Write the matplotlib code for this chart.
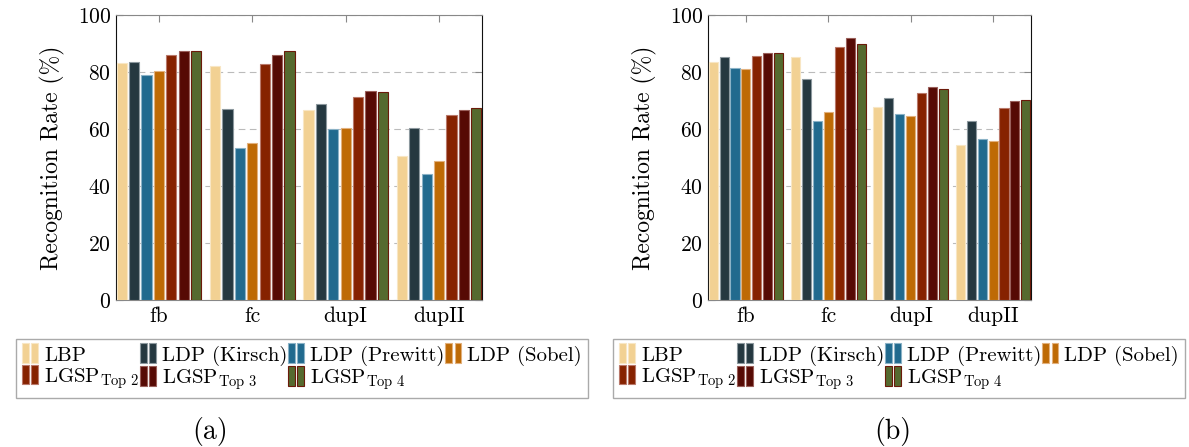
import numpy as np
import matplotlib
matplotlib.use("Agg")
import matplotlib.pyplot as plt
from matplotlib.patches import Patch, Rectangle
from matplotlib.legend_handler import HandlerBase

plt.rcParams['font.family'] = ['cmr10', 'DejaVu Serif']
plt.rcParams['mathtext.fontset'] = 'cm'
plt.rcParams['axes.formatter.use_mathtext'] = True

# probe sets on the x axis
sets = ['fb', 'fc', 'dupI', 'dupII']

methods = ['LBP', 'LDP (Kirsch)', 'LDP (Prewitt)', 'LDP (Sobel)',
           r'LGSP$_{\mathrm{Top\ 2}}$', r'LGSP$_{\mathrm{Top\ 3}}$', r'LGSP$_{\mathrm{Top\ 4}}$']

# recognition rates (%), one row per method, columns follow `sets`
rates_a = [
    [83.3, 82.2, 66.5, 50.6],   # LBP
    [83.4, 67.0, 68.9, 60.2],   # LDP Kirsch
    [78.8, 53.3, 59.9, 44.2],   # LDP Prewitt
    [80.5, 55.2, 60.2, 48.8],   # LDP Sobel
    [85.8, 82.8, 71.3, 64.8],   # LGSP top 2
    [87.4, 85.9, 73.3, 66.7],   # LGSP top 3
    [87.4, 87.4, 72.9, 67.4],   # LGSP top 4
]
rates_b = [
    [83.4, 85.3, 67.6, 54.3],
    [85.3, 77.7, 71.0, 62.9],
    [81.3, 62.9, 65.3, 56.6],
    [80.9, 65.8, 64.4, 55.7],
    [85.7, 88.9, 72.7, 67.3],
    [86.7, 91.9, 74.9, 69.9],
    [86.7, 89.9, 74.2, 70.3],
]

fills = ['#f2d193', '#253840', '#216a8e', '#be6a05', '#862200', '#560a04', '#556a2f']
edges = ['#f8e6c4', '#8c989e', '#8ab2c6', '#e2b07c', '#b9786a', '#9a5f5a', '#6b1a0a']


class TwoBars(HandlerBase):
    # pgfplots-style ybar legend image: two little bars
    def create_artists(self, legend, orig_handle, xdescent, ydescent,
                       width, height, fontsize, trans):
        x0, y0 = -xdescent, -ydescent - height * 0.1
        out = []
        for off in (0.0, 0.55):
            r = Rectangle((x0 + off * width, y0), width * 0.4, height * 1.25,
                          facecolor=orig_handle.get_facecolor(),
                          edgecolor=orig_handle.get_edgecolor(), linewidth=0.8,
                          transform=trans)
            out.append(r)
        return out


def draw_panel(ax, rates):
    pos = np.arange(len(sets))
    pitch = 0.1325
    for i, vals in enumerate(rates):
        ax.bar(pos + (i - 3) * pitch, vals, 0.11, color=fills[i],
               edgecolor=edges[i], linewidth=0.8, zorder=3)
    ax.set_xlim(-0.46, 3.46)
    ax.set_ylim(0, 100)
    ax.set_xticks(pos)
    ax.set_xticklabels(sets)
    ax.set_yticks(np.arange(0, 101, 20))
    ax.tick_params(axis='both', direction='in', length=5, color='#888888',
                   labelsize=15.5, top=True, right=True, bottom=False)
    ax.tick_params(axis='x', pad=5)
    ax.yaxis.grid(True, linestyle=(0, (6, 4)), color='#bbbbbb', linewidth=0.8, zorder=0)
    ax.set_axisbelow(True)
    ax.set_ylabel('Recognition Rate (%)', fontsize=17, labelpad=9)
    ax.spines['top'].set_color('#888888')
    ax.spines['bottom'].set_color('#888888')
    ax.spines['left'].set_color('#111111')
    ax.spines['right'].set_color('#111111')


fig = plt.figure(figsize=(11.89, 4.47), dpi=100)
W, H = 1189, 447

ax_a = fig.add_axes([116 / W, 147 / H, 366 / W, 285 / H])
ax_b = fig.add_axes([708 / W, 147 / H, 323 / W, 285 / H])
draw_panel(ax_a, rates_a)
draw_panel(ax_b, rates_b)

# legend fills column by column, so interleave to read row by row
order = [0, 4, 1, 5, 2, 6, 3]
handles = [Patch(facecolor=fills[i], edgecolor=edges[i]) for i in order]
labels = [methods[i] for i in order]
for lx, cap, cx in [(302, '(a)', 210), (899, '(b)', 893)]:
    fig.legend(handles, labels, ncol=4, loc='upper center',
               bbox_to_anchor=(lx / W, 1 - 329 / H),
               fontsize=15, handler_map={Patch: TwoBars()},
               handlelength=0.8, handleheight=0.8, handletextpad=0.25,
               columnspacing=0.05, labelspacing=0.05, borderpad=0.3,
               fancybox=False, edgecolor='#aaaaaa', framealpha=1)
    fig.text(cx / W, 1 - 432 / H, cap, ha='center', va='center', fontsize=20)

fig.savefig('out.png', dpi=100, facecolor='white')
